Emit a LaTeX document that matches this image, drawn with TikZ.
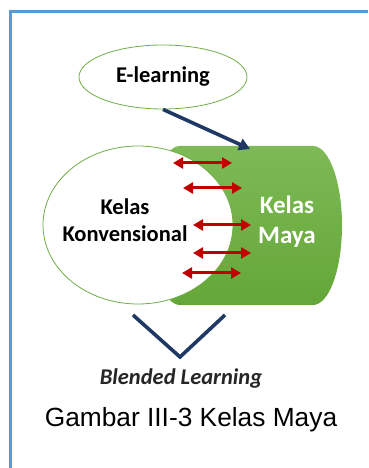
\documentclass[tikz,border=0pt]{standalone}
\usepackage{fontspec}
\setmainfont{Liberation Sans}
\newfontfamily\calibri{Carlito}
\usetikzlibrary{shapes.geometric, arrows.meta}
\definecolor{framblue}{RGB}{91,155,213}
\definecolor{konvgreen}{RGB}{112,173,71}
\definecolor{navyline}{RGB}{31,56,100}
\definecolor{linkred}{RGB}{192,0,0}
\tikzset{
    bubble/.style={ellipse, draw=konvgreen, line width=0.8pt, fill=white, inner sep=0pt},
    label text/.style={font=\calibri\bfseries\fontsize{22.5}{27}\selectfont, align=center},
    navy link/.style={draw=navyline, line width=3.6pt},
    two way/.style={draw=linkred, line width=3pt, {Triangle[length=10pt,width=11pt]}-{Triangle[length=10pt,width=11pt]}}
}
\begin{document}
\begin{tikzpicture}[x=1pt, y=1pt]
            \useasboundingbox (0,0) rectangle (368,468);
            \draw[framblue, line width=3pt] (10.5,0) |- (368,456.5);
            \node[bubble, minimum width=168pt, minimum height=64pt] (elearn) at (163,391) {};
            \node[label text] (elearntext) at (elearn.center) {E-learning};
            \shade[top color={rgb,255:red,126;green,186;blue,86}, bottom color={rgb,255:red,100;green,166;blue,56}]
                (180,322) -- (313,322) arc[start angle=90, end angle=-90, x radius=29, y radius=79.5]
                -- (180,163) arc[start angle=270, end angle=90, x radius=29, y radius=79.5] -- cycle;
            \coordinate (mayatop) at (250,319);
            \draw[navy link, -{Triangle[length=11pt,width=12pt]}] (elearn.south) -- (mayatop);
            \node[label text, text=white, font=\calibri\bfseries\fontsize{25}{30}\selectfont] (maya) at (287,246.5) {Kelas\\Maya};
            \node[bubble, minimum width=190pt, minimum height=158pt] (konv) at (138,243) {};
            \node[label text] (konvtext) at (125,248) {Kelas\\Konvensional};
            \foreach \xa/\xb/\yy in {173/232/305, 183/242/280, 193/251/243, 193/251/215, 182/241/195}
                \draw[two way] (\xa,\yy) -- (\xb,\yy);
            \coordinate (vleft) at (133,153);
            \coordinate (vbottom) at (180,111);
            \coordinate (vright) at (225,153);
            \draw[navy link, line join=miter] (vleft) -- (vbottom) -- (vright);
            \node[label text, text={rgb,255:red,38;green,38;blue,38}, font=\calibri\bfseries\itshape\fontsize{22.5}{27}\selectfont] (blended) at (181,89) {Blended Learning};
            \node[font=\fontsize{26.3}{31}\selectfont] (caption) at (191,48) {Gambar III-3 Kelas Maya};
        \end{tikzpicture}
\end{document}
